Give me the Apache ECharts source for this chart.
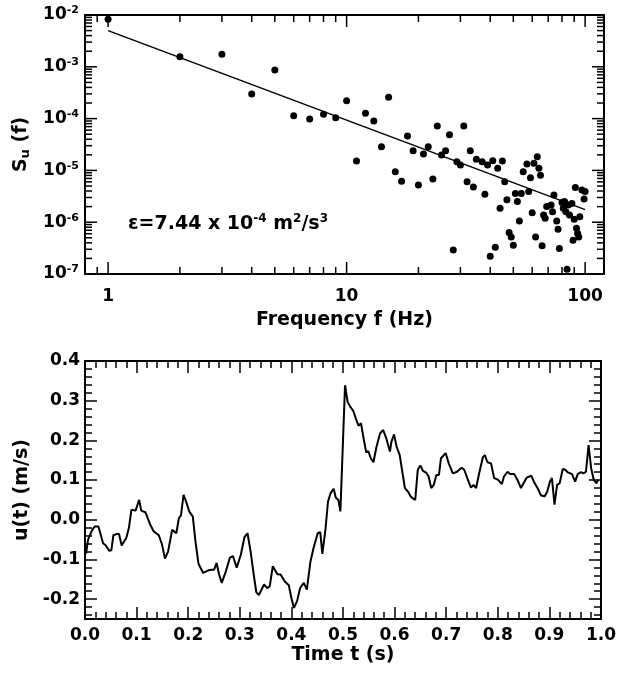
<!DOCTYPE html>
<html><head><meta charset="utf-8">
<script src="https://cdn.jsdelivr.net/npm/echarts@6.0.0/dist/echarts.min.js"></script>
<style>html,body{margin:0;padding:0;background:#fff}#c{width:619px;height:675px}</style>
</head><body><div id="c"></div>
<script>
// ---- spectrum (top panel) ----
const freqHz = [1,2,3,4,5,6,7,8,9,10,11,12,13,14,15,16,17,18,19,20,21,22,23,24,25,26,27,28,29,30,31,32,33,34,35,37,38,39,40,41,42,43,44,45,46,47,48,49,50,51,52,53,54,55,57,58,59,60,61,62,63,64,65,66,67,68,69,72,73,74,76,77,78,80,81,82,83,84,85,86,88,89,90,91,92,93,94,95,97,99,100];
const spectrum = [8.3e-3,1.57e-3,1.74e-3,3.0e-4,8.7e-4,1.14e-4,9.8e-5,1.21e-4,1.04e-4,2.22e-4,1.52e-5,1.27e-4,9.0e-5,2.87e-5,2.58e-4,9.4e-6,6.2e-6,4.6e-5,2.4e-5,5.2e-6,2.07e-5,2.87e-5,6.8e-6,7.2e-5,1.98e-5,2.4e-5,4.9e-5,2.9e-7,1.47e-5,1.27e-5,7.2e-5,6.05e-6,2.4e-5,4.8e-6,1.64e-5,1.47e-5,3.46e-6,1.27e-5,2.2e-7,1.54e-5,3.3e-7,1.1e-5,1.85e-6,1.52e-5,6.05e-6,2.7e-6,6.3e-7,5.2e-7,3.6e-7,3.6e-6,2.5e-6,1.05e-6,3.6e-6,9.4e-6,1.33e-5,3.9e-6,7.2e-6,1.52e-6,1.37e-5,5.2e-7,1.84e-5,1.1e-5,8.1e-6,3.5e-7,1.38e-6,1.19e-6,2.0e-6,2.15e-6,1.6e-6,3.35e-6,1.05e-6,7.3e-7,3.1e-7,2.4e-6,1.85e-6,2.5e-6,1.6e-6,1.23e-7,2.15e-6,1.38e-6,2.3e-6,4.5e-7,1.14e-6,4.7e-6,7.6e-7,6.1e-7,5.2e-7,1.28e-6,4.2e-6,2.8e-6,3.9e-6];
const fitFreq = [1, 100];
const fitSpectrum = [5.0e-3, 1.75e-6];
const freqMajorTicks = [1, 10, 100];
const freqMinorTicks = [0.9,2,3,4,5,6,7,8,9,20,30,40,50,60,70,80,90];
const spectrumMajorTicks = [1e-7,1e-6,1e-5,1e-4,1e-3,1e-2];
const spectrumMinorTicks = [2e-7,3e-7,4e-7,5e-7,6e-7,7e-7,8e-7,9e-7,2e-6,3e-6,4e-6,5e-6,6e-6,7e-6,8e-6,9e-6,2e-5,3e-5,4e-5,5e-5,6e-5,7e-5,8e-5,9e-5,2e-4,3e-4,4e-4,5e-4,6e-4,7e-4,8e-4,9e-4,2e-3,3e-3,4e-3,5e-3,6e-3,7e-3,8e-3,9e-3];

// ---- velocity time series (bottom panel) ----
const timeS = [0.002,0.006,0.013,0.019,0.026,0.035,0.040,0.047,0.051,0.055,0.061,0.066,0.071,0.080,0.085,0.090,0.098,0.105,0.109,0.117,0.127,0.133,0.143,0.149,0.155,0.161,0.169,0.177,0.182,0.186,0.191,0.197,0.202,0.209,0.214,0.220,0.229,0.238,0.244,0.250,0.255,0.260,0.265,0.273,0.281,0.287,0.294,0.302,0.309,0.315,0.321,0.327,0.332,0.337,0.347,0.353,0.358,0.364,0.373,0.379,0.387,0.395,0.400,0.405,0.411,0.417,0.424,0.430,0.437,0.443,0.451,0.456,0.460,0.466,0.471,0.476,0.482,0.486,0.491,0.495,0.504,0.509,0.514,0.520,0.525,0.530,0.535,0.540,0.545,0.549,0.554,0.559,0.565,0.572,0.578,0.584,0.591,0.594,0.599,0.604,0.610,0.615,0.620,0.626,0.631,0.636,0.640,0.645,0.650,0.655,0.661,0.666,0.671,0.676,0.681,0.686,0.690,0.699,0.705,0.713,0.721,0.730,0.735,0.742,0.748,0.753,0.758,0.764,0.771,0.775,0.780,0.787,0.793,0.800,0.808,0.812,0.819,0.824,0.832,0.838,0.845,0.850,0.856,0.865,0.870,0.877,0.884,0.891,0.896,0.901,0.905,0.910,0.915,0.920,0.926,0.931,0.935,0.944,0.950,0.955,0.961,0.966,0.971,0.976,0.981,0.986,0.991,0.995];
const velocity = [-0.085,-0.050,-0.028,-0.017,-0.017,-0.059,-0.064,-0.078,-0.077,-0.039,-0.036,-0.036,-0.065,-0.046,-0.021,0.025,0.023,0.050,0.023,0.019,-0.014,-0.029,-0.039,-0.061,-0.098,-0.080,-0.025,-0.034,0.004,0.011,0.063,0.042,0.021,0.008,-0.054,-0.111,-0.134,-0.128,-0.126,-0.126,-0.109,-0.138,-0.159,-0.130,-0.095,-0.092,-0.121,-0.088,-0.044,-0.034,-0.080,-0.138,-0.182,-0.190,-0.163,-0.172,-0.168,-0.117,-0.137,-0.138,-0.155,-0.165,-0.197,-0.222,-0.205,-0.172,-0.159,-0.176,-0.105,-0.071,-0.034,-0.031,-0.086,-0.025,0.046,0.067,0.078,0.056,0.050,0.021,0.339,0.297,0.285,0.274,0.255,0.237,0.243,0.205,0.170,0.173,0.155,0.145,0.184,0.218,0.226,0.205,0.172,0.197,0.215,0.184,0.163,0.121,0.080,0.071,0.059,0.053,0.050,0.126,0.137,0.123,0.119,0.109,0.080,0.088,0.113,0.113,0.155,0.168,0.142,0.117,0.121,0.131,0.126,0.101,0.081,0.088,0.080,0.117,0.157,0.163,0.145,0.142,0.105,0.101,0.090,0.109,0.121,0.115,0.115,0.101,0.080,0.092,0.106,0.111,0.096,0.080,0.061,0.059,0.071,0.096,0.105,0.038,0.088,0.092,0.128,0.126,0.120,0.115,0.096,0.115,0.120,0.117,0.121,0.188,0.130,0.101,0.092,0.101];

const FONT = 'DejaVu Sans';
const BLACK = '#000';
const lineCol = { color: BLACK, width: 2 };
const tickCol = { color: BLACK, width: 1.5 };
const F_MIN = 0.8, F_MAX = 120, S_MIN = 1e-7, S_MAX = 1e-2;
const MAJOR = 12, MINOR = 7, TW = 1.5;

function labelStyle(extra) {
  return Object.assign({ color: BLACK, fontSize: 17, fontWeight: 'bold', fontFamily: FONT }, extra);
}
function nameStyle(extra) {
  return Object.assign({ color: BLACK, fontSize: 19, fontWeight: 'bold', fontFamily: FONT }, extra);
}
function isDecade(v) { const e = Math.log10(v); return Math.abs(e - Math.round(e)) < 1e-9; }

function baseAxis(o) {
  return Object.assign({
    axisLine: { show: true, onZero: false, lineStyle: lineCol },
    axisTick: { show: true, inside: true, length: MAJOR, lineStyle: tickCol },
    minorTick: { show: true, length: MINOR, lineStyle: tickCol },
    splitLine: { show: false },
    minorSplitLine: { show: false }
  }, o);
}
function logAxis(o) {
  return Object.assign({
    axisLine: { show: true, onZero: false, lineStyle: lineCol },
    axisTick: { show: false },
    minorTick: { show: false },
    splitLine: { show: false },
    minorSplitLine: { show: false }
  }, o);
}

const supRich = {
  b: { fontSize: 17, fontWeight: 'bold', fontFamily: FONT, color: BLACK },
  s: { fontSize: 11, fontWeight: 'bold', fontFamily: FONT, color: BLACK, padding: [0, 0, 9, 0] }
};

// log-panel tick marks, placed through the axis scales (rect symbols anchored on the frame)
function tickSeries(points, size, offset, label) {
  const s = { type: 'scatter', xAxisIndex: 0, yAxisIndex: 0, silent: true, clip: false, z: 5,
    symbol: 'rect', symbolSize: size, symbolOffset: offset,
    itemStyle: { color: BLACK, opacity: 1 }, data: points };
  if (label) s.label = label;
  return s;
}

const option = {
  animation: false,
  backgroundColor: '#fff',
  grid: [
    { left: 85, top: 15, width: 519, height: 259, containLabel: false },
    { left: 85, top: 361, width: 519, height: 258, containLabel: false }
  ],
  xAxis: [
    logAxis({ gridIndex: 0, type: 'log', min: F_MIN, max: F_MAX, position: 'bottom',
      axisLabel: { show: false },
      name: 'Frequency f (Hz)', nameLocation: 'middle', nameGap: 37, nameTextStyle: nameStyle() }),
    logAxis({ gridIndex: 0, type: 'log', min: F_MIN, max: F_MAX, position: 'top', axisLabel: { show: false } }),
    baseAxis({ gridIndex: 1, type: 'value', min: 0, max: 1, interval: 0.1, position: 'bottom',
      minorTick: { show: true, splitNumber: 5, length: MINOR, lineStyle: tickCol },
      axisLabel: labelStyle({ margin: 8, formatter: v => v.toFixed(1) }),
      name: 'Time t (s)', nameLocation: 'middle', nameGap: 27, nameTextStyle: nameStyle() }),
    baseAxis({ gridIndex: 1, type: 'value', min: 0, max: 1, interval: 0.1, position: 'top',
      minorTick: { show: true, splitNumber: 5, length: MINOR, lineStyle: tickCol },
      axisLabel: { show: false } })
  ],
  yAxis: [
    logAxis({ gridIndex: 0, type: 'log', min: S_MIN, max: S_MAX, position: 'left',
      axisLabel: { margin: 6, formatter: v => isDecade(v) ? '{b|10}{s|' + Math.round(Math.log10(v)) + '}' : '', rich: supRich },
      name: '{b|S}{u|u}{b| (f)}', nameLocation: 'middle', nameGap: 50,
      nameTextStyle: { rich: {
        b: { fontSize: 19, fontWeight: 'bold', fontFamily: FONT, color: BLACK },
        u: { fontSize: 13, fontWeight: 'bold', fontFamily: FONT, color: BLACK, padding: [10, 0, 0, 0] } } } }),
    logAxis({ gridIndex: 0, type: 'log', min: S_MIN, max: S_MAX, position: 'right', axisLabel: { show: false } }),
    baseAxis({ gridIndex: 1, type: 'value', min: -0.25, max: 0.4, splitNumber: 6, position: 'left',
      minorTick: { show: true, splitNumber: 5, length: MINOR, lineStyle: tickCol },
      axisLabel: labelStyle({ margin: 5, formatter: v => Math.abs(v * 10 - Math.round(v * 10)) > 1e-6 ? '' : (Math.abs(v) < 1e-9 ? '0.0' : v.toFixed(1)) }),
      name: 'u(t) (m/s)', nameLocation: 'middle', nameGap: 50, nameTextStyle: nameStyle() }),
    baseAxis({ gridIndex: 1, type: 'value', min: -0.25, max: 0.4, splitNumber: 6, position: 'right',
      minorTick: { show: true, splitNumber: 5, length: MINOR, lineStyle: tickCol },
      axisLabel: { show: false } })
  ],
  graphic: [{
    type: 'text', left: 128, top: 213, z: 10,
    style: {
      text: '{b|\u03b5=7.44 x 10}{s|-4}{b| m}{s|2}{b|/s}{s|3}',
      rich: {
        b: { fontSize: 19, fontWeight: 'bold', fontFamily: FONT, fill: BLACK, color: BLACK },
        s: { fontSize: 12, fontWeight: 'bold', fontFamily: FONT, fill: BLACK, color: BLACK, padding: [0, 0, 10, 0] }
      }
    }
  }],
  series: [
    // bottom decade ticks carry the frequency decade labels (1, 10, 100)
    tickSeries(freqMajorTicks.map(v => [v, S_MIN]), [TW, MAJOR], [0, -MAJOR / 2],
      { show: true, position: 'bottom', distance: 14, color: BLACK, fontSize: 17, fontWeight: 'bold', fontFamily: FONT,
        formatter: p => String(p.value[0]) }),
    tickSeries(freqMajorTicks.map(v => [v, S_MAX]), [TW, MAJOR], [0, MAJOR / 2]),
    tickSeries(freqMinorTicks.map(v => [v, S_MIN]), [TW, MINOR], [0, -MINOR / 2]),
    tickSeries(freqMinorTicks.map(v => [v, S_MAX]), [TW, MINOR], [0, MINOR / 2]),
    tickSeries(spectrumMajorTicks.map(v => [F_MIN, v]), [MAJOR, TW], [MAJOR / 2, 0]),
    tickSeries(spectrumMajorTicks.map(v => [F_MAX, v]), [MAJOR, TW], [-MAJOR / 2, 0]),
    tickSeries(spectrumMinorTicks.map(v => [F_MIN, v]), [MINOR, TW], [MINOR / 2, 0]),
    tickSeries(spectrumMinorTicks.map(v => [F_MAX, v]), [MINOR, TW], [-MINOR / 2, 0]),
    { type: 'scatter', xAxisIndex: 0, yAxisIndex: 0, symbol: 'circle', symbolSize: 7,
      itemStyle: { color: BLACK, opacity: 1 }, data: freqHz.map((f, i) => [f, spectrum[i]]) },
    { type: 'line', xAxisIndex: 0, yAxisIndex: 0, showSymbol: false, symbol: 'none',
      lineStyle: { color: BLACK, width: 1.5 }, data: fitFreq.map((f, i) => [f, fitSpectrum[i]]) },
    { type: 'line', xAxisIndex: 2, yAxisIndex: 2, showSymbol: false, symbol: 'none',
      lineStyle: { color: BLACK, width: 2 }, data: timeS.map((t, i) => [t, velocity[i]]) }
  ]
};
const chart = echarts.init(document.getElementById('c'), null, { renderer: 'canvas' });
chart.setOption(option);
</script>
</body></html>
